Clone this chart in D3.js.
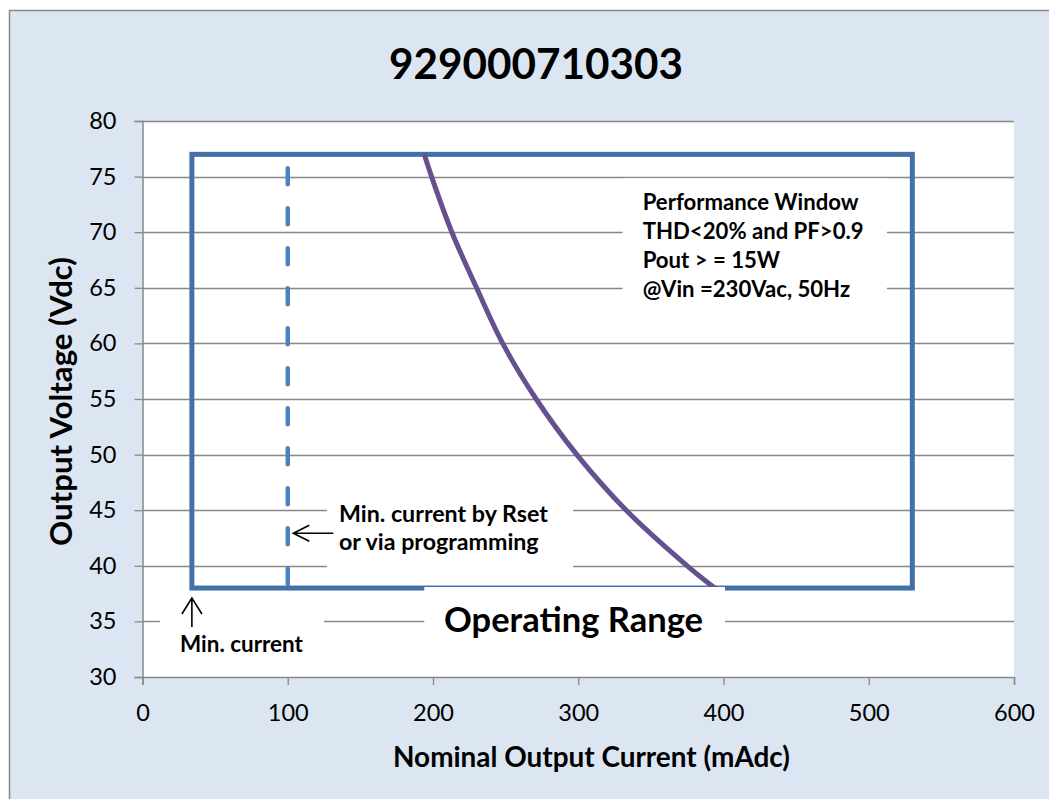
<!DOCTYPE html>
<html><head><meta charset="utf-8">
<script src="https://cdn.jsdelivr.net/npm/d3@7"></script>
<style>body{margin:0;background:#fff}svg{display:block}</style>
</head><body>
<svg id="c" width="1049" height="799"></svg>
<script>
// ---- data ----
const title = "929000710303";
const xTicks = [0, 100, 200, 300, 400, 500, 600];
const yTicks = [30, 35, 40, 45, 50, 55, 60, 65, 70, 75, 80];
const windowCurrent = [34, 530];      // operating window (mA)
const windowVoltage = [38, 77];       // operating window (V)
const rsetCurrent = 100;              // min current by Rset (mA)
const curveCurrent = [194, 199, 213, 230, 248, 271, 299, 333, 375, 394];
const curveVoltage = [77, 75, 70, 65, 60, 55, 50, 45, 40, 38];
const perfLines = ["Performance Window", "THD<20% and PF>0.9", "Pout > = 15W", "@Vin =230Vac, 50Hz"];
const rsetLines = ["Min. current by Rset", "or via programming"];
const xLabel = "Nominal Output Current (mAdc)";
const yLabel = "Output Voltage (Vdc)";

const FONT = "Lato, 'Open Sans', sans-serif";
const svg = d3.select("#c");
const x = d3.scaleLinear().domain([0, 600]).range([142.5, 1014]);
const y = d3.scaleLinear().domain([30, 80]).range([677, 121]);
const grey = "#888888";

function fit(sel, target) {
  sel.style("font-size", "20px");
  const len = sel.node().getComputedTextLength();
  const fs = 20 * target / len;
  sel.style("font-size", fs + "px");
  return fs;
}
function measureSize(txt, target, weight) {
  const t = svg.append("text").text(txt).attr("font-family", FONT).attr("font-weight", weight);
  const fs = fit(t, target); t.remove(); return fs;
}

// chart background
svg.append("rect").attr("x", 9.5).attr("y", 10.5).attr("width", 1100).attr("height", 900)
  .attr("fill", "#dce6f2").attr("stroke", grey).attr("stroke-width", 1.5);
// plot area
svg.append("rect").attr("x", x(0)).attr("y", y(80)).attr("width", x(600) - x(0)).attr("height", y(30) - y(80))
  .attr("fill", "#ffffff");

// gridlines
svg.append("g").selectAll("line").data(yTicks.filter(d => d > 30)).join("line")
  .attr("x1", x(0)).attr("x2", x(600))
  .attr("y1", d => Math.round(y(d)) + 0.5).attr("y2", d => Math.round(y(d)) + 0.5)
  .attr("stroke", grey).attr("stroke-width", 1.3);

const tickFs = measureSize("600", 41, "normal");
// y axis
const ya = svg.append("g").attr("transform", `translate(${x(0)},0)`)
  .call(d3.axisLeft(y).tickValues(yTicks).tickSize(8).tickPadding(18));
ya.select(".domain").attr("stroke", grey).attr("stroke-width", 1.5);
ya.selectAll(".tick line").attr("stroke", grey).attr("stroke-width", 1.3);
ya.selectAll(".tick text").attr("font-family", FONT).style("font-size", tickFs + "px").attr("fill", "#000");
// x axis
const xa = svg.append("g").attr("transform", `translate(0,${y(30)})`)
  .call(d3.axisBottom(x).tickValues(xTicks).tickSize(8).tickPadding(19));
xa.select(".domain").attr("stroke", grey).attr("stroke-width", 1.5);
xa.selectAll(".tick line").attr("stroke", grey).attr("stroke-width", 1.3);
xa.selectAll(".tick text").attr("font-family", FONT).style("font-size", tickFs + "px").attr("fill", "#000");

// operating window rectangle
svg.append("rect")
  .attr("x", x(windowCurrent[0])).attr("y", y(windowVoltage[1]))
  .attr("width", x(windowCurrent[1]) - x(windowCurrent[0]))
  .attr("height", y(windowVoltage[0]) - y(windowVoltage[1]))
  .attr("fill", "none").attr("stroke", "#4470a8").attr("stroke-width", 5);

// dashed min current by Rset
svg.append("line")
  .attr("x1", x(rsetCurrent)).attr("x2", x(rsetCurrent))
  .attr("y1", y(windowVoltage[1])).attr("y2", y(windowVoltage[0]))
  .attr("stroke", "#4f81bd").attr("stroke-width", 4.5).attr("stroke-linecap", "round")
  .attr("stroke-dasharray", "16 24").attr("stroke-dashoffset", 26);

// power curve
const pts = curveCurrent.map((c, i) => [c, curveVoltage[i]]);
svg.append("path").datum(pts)
  .attr("d", d3.line().x(d => x(d[0])).y(d => y(d[1])).curve(d3.curveCatmullRom))
  .attr("fill", "none").attr("stroke", "#66508f").attr("stroke-width", 5);

// white text boxes
function box(c0, c1, v0, v1) {
  svg.append("rect").attr("x", x(c0)).attr("y", y(v1))
    .attr("width", x(c1) - x(c0)).attr("height", y(v0) - y(v1)).attr("fill", "#ffffff");
}
box(330.5, 512.5, 61.3, 74.85);   // performance window
box(127, 296.5, 38.6, 46.5);      // rset label
box(12, 125, 31.5, 37.1);         // min current
box(194, 401, 31.5, y.invert(587)); // operating range

// performance window text
const perfFs = measureSize(perfLines[0], 216, "bold");
const pg = svg.append("g");
perfLines.forEach((t, i) => {
  pg.append("text").text(t).attr("x", 642.7).attr("y", 209.5 + i * 29.3)
    .attr("font-family", FONT).attr("font-weight", "bold").style("font-size", perfFs + "px");
});
// rset text
const rsFs = measureSize(rsetLines[0], 209, "bold");
rsetLines.forEach((t, i) => {
  svg.append("text").text(t).attr("x", 339).attr("y", 522 + i * 28)
    .attr("font-family", FONT).attr("font-weight", "bold").style("font-size", rsFs + "px");
});
// arrow left (to dashed line)
const ay = 533.3, ax = 293.3;
svg.append("path").attr("d", `M${ax + 40},${ay}H${ax}M${ax + 16},${ay - 8}L${ax},${ay}L${ax + 16},${ay + 8}`)
  .attr("fill", "none").attr("stroke", "#000").attr("stroke-width", 1.6);
// arrow up (min current)
const ux = x(windowCurrent[0]), uy = 598;
svg.append("path").attr("d", `M${ux},${uy + 29}V${uy}M${ux - 10},${uy + 16}L${ux},${uy}L${ux + 10},${uy + 16}`)
  .attr("fill", "none").attr("stroke", "#000").attr("stroke-width", 1.6);
const mc = svg.append("text").text("Min. current").attr("x", 180).attr("y", 652)
  .attr("font-family", FONT).attr("font-weight", "bold");
fit(mc, 123);
const op = svg.append("text").text("Operating Range").attr("x", 444).attr("y", 632)
  .attr("font-family", FONT).attr("font-weight", "bold");
fit(op, 259);

// titles
const tt = svg.append("text").text(title).attr("x", 536).attr("y", 79).attr("text-anchor", "middle")
  .attr("font-family", FONT).attr("font-weight", "bold");
fit(tt, 294);
const xl = svg.append("text").text(xLabel).attr("x", 591.5).attr("y", 767).attr("text-anchor", "middle")
  .attr("font-family", FONT).attr("font-weight", "bold");
fit(xl, 397);
const yl = svg.append("text").text(yLabel).attr("transform", "translate(72,401.5) rotate(-90)")
  .attr("text-anchor", "middle").attr("font-family", FONT).attr("font-weight", "bold");
fit(yl, 289);
</script>
</body></html>
